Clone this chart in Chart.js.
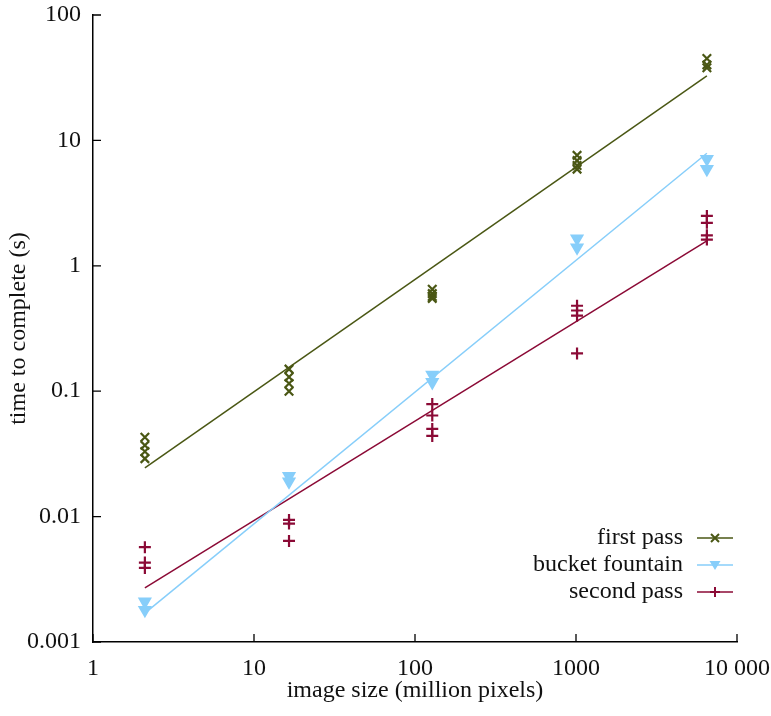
<!DOCTYPE html>
<html>
<head>
<script src="https://cdn.jsdelivr.net/npm/chart.js@4/dist/chart.umd.min.js"></script>
<style>
  body { margin: 0; background: #fff; }
</style>
</head>
<body>
<canvas id="chart" width="771" height="716"></canvas>
<script>
// image sizes (million pixels) of the test runs
const sizes = [2.1, 16.5, 128, 1015, 6500];
// measured times (s) per size, several runs each
const firstPass = [[0.043, 0.037, 0.033, 0.029], [0.15, 0.13, 0.115, 0.1], [0.65, 0.6, 0.57, 0.55], [7.6, 6.9, 6.3, 5.9], [45, 40, 38]];
const bucketFountain = [[0.0021, 0.0018], [0.021, 0.019], [0.135, 0.118], [1.65, 1.4], [7.1, 5.9]];
const secondPass = [[0.0057, 0.0043, 0.0039], [0.0094, 0.0088, 0.0064], [0.079, 0.064, 0.05, 0.044], [0.48, 0.44, 0.4, 0.2], [2.5, 2.2, 1.75, 1.62]];
// fitted power-law lines, end points
const fitX = [2.1, 6500];
const firstFit = [0.0245, 32.7];
const bucketFit = [0.0017, 7.9];
const secondFit = [0.0027, 1.58];

const xTicks = [1, 10, 100, 1000, 10000];
const xTickLabels = ['1', '10', '100', '1000', '10 000'];
const yTicks = [0.001, 0.01, 0.1, 1, 10, 100];
const yTickLabels = ['0.001', '0.01', '0.1', '1', '10', '100'];

const cFirst = '#4a5714';
const cBucket = '#87cefa';
const cSecond = '#8b0a36';
const FONT = "'Liberation Serif', 'DejaVu Serif', serif";
const FS = 24;

function pts(vals) {
  return vals.flatMap((row, i) => row.map(v => ({ x: sizes[i], y: v })));
}
function line(ys) {
  return fitX.map((x, i) => ({ x: x, y: ys[i] }));
}

const series = [
  { label: 'first pass', color: cFirst, style: 'crossRot', vals: firstPass, fit: firstFit, r: 6, rot: 0 },
  { label: 'bucket fountain', color: cBucket, style: 'triangle', vals: bucketFountain, fit: bucketFit, r: 6, rot: 180 },
  { label: 'second pass', color: cSecond, style: 'cross', vals: secondPass, fit: secondFit, r: 6, rot: 0 }
];

const datasets = [];
series.forEach(s => {
  datasets.push({
    type: 'line', data: line(s.fit), borderColor: s.color, borderWidth: 1.5,
    pointRadius: 0, fill: false
  });
  datasets.push({
    type: 'scatter', data: pts(s.vals), pointStyle: s.style, pointRadius: s.r,
    pointRotation: s.rot, borderColor: s.color, backgroundColor: s.color, borderWidth: 2.2
  });
});

// inward tick marks and the custom legend
const extras = {
  id: 'extras',
  afterDatasetsDraw(chart) {
    const ctx = chart.ctx;
    const a = chart.chartArea;
    const xs = chart.scales.x, ys = chart.scales.y;
    ctx.save();
    ctx.strokeStyle = '#000';
    ctx.lineWidth = 1.3;
    ctx.beginPath();
    xTicks.forEach(v => {
      const px = xs.getPixelForValue(v);
      ctx.moveTo(px, a.bottom); ctx.lineTo(px, a.bottom - 8);
    });
    yTicks.forEach(v => {
      const py = ys.getPixelForValue(v);
      ctx.moveTo(a.left, py); ctx.lineTo(a.left + 8, py);
    });
    ctx.stroke();

    ctx.font = FS + 'px ' + FONT;
    ctx.textAlign = 'right';
    ctx.textBaseline = 'middle';
    series.forEach((s, i) => {
      const y = a.bottom - 104 + i * 27;
      ctx.fillStyle = '#111';
      ctx.fillText(s.label, a.right - 54, y);
      ctx.strokeStyle = s.color;
      ctx.lineWidth = 1.5;
      ctx.beginPath();
      ctx.moveTo(a.right - 40, y); ctx.lineTo(a.right - 4, y);
      ctx.stroke();
      const cx = a.right - 22;
      ctx.lineWidth = 2;
      ctx.fillStyle = s.color;
      ctx.beginPath();
      if (s.style === 'crossRot') {
        ctx.moveTo(cx - 4, y - 4); ctx.lineTo(cx + 4, y + 4);
        ctx.moveTo(cx + 4, y - 4); ctx.lineTo(cx - 4, y + 4);
        ctx.stroke();
      } else if (s.style === 'triangle') {
        ctx.moveTo(cx - 5.5, y - 4); ctx.lineTo(cx + 5.5, y - 4); ctx.lineTo(cx, y + 5);
        ctx.closePath(); ctx.fill();
      } else {
        ctx.moveTo(cx - 5, y); ctx.lineTo(cx + 5, y);
        ctx.moveTo(cx, y - 5); ctx.lineTo(cx, y + 5);
        ctx.stroke();
      }
    });
    ctx.restore();
  }
};

new Chart(document.getElementById('chart'), {
  type: 'scatter',
  data: { datasets: datasets },
  plugins: [extras],
  options: {
    responsive: false,
    animation: false,
    layout: { padding: { top: 15, right: 34, bottom: 0, left: 0 } },
    plugins: { legend: { display: false }, tooltip: { enabled: false } },
    scales: {
      x: {
        type: 'logarithmic', min: 1, max: 10000,
        afterBuildTicks: s => { s.ticks = xTicks.map(v => ({ value: v })); },
        afterFit: s => { s.height = 74; s.paddingLeft = 0; s.paddingRight = 0; },
        ticks: {
          color: '#111', font: { family: FONT, size: FS }, padding: 12, maxRotation: 0,
          callback: (v) => xTickLabels[xTicks.indexOf(v)]
        },
        grid: { drawOnChartArea: false, drawTicks: false },
        border: { display: true, color: '#000', width: 1.5 },
        title: { display: true, text: 'image size (million pixels)', color: '#111', font: { family: FONT, size: FS }, padding: { top: 4, bottom: 11 } }
      },
      y: {
        type: 'logarithmic', min: 0.001, max: 100,
        afterBuildTicks: s => { s.ticks = yTicks.map(v => ({ value: v })); },
        afterFit: s => { s.width = 93; s.paddingTop = 0; s.paddingBottom = 0; },
        ticks: {
          color: '#111', font: { family: FONT, size: FS }, padding: 12,
          callback: (v) => yTickLabels[yTicks.indexOf(v)]
        },
        grid: { drawOnChartArea: false, drawTicks: false },
        border: { display: true, color: '#000', width: 1.5 },
        title: { display: true, text: 'time to complete (s)', color: '#111', font: { family: FONT, size: FS }, padding: { top: 4, bottom: 4 } }
      }
    }
  }
});
</script>
</body>
</html>
